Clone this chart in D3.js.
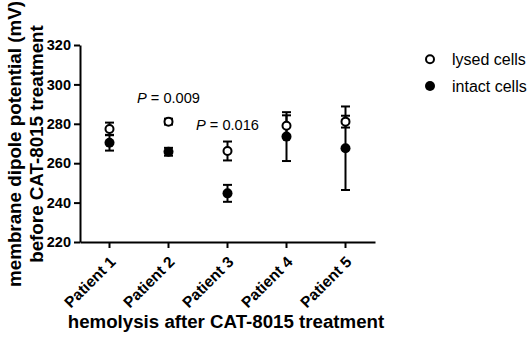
<!DOCTYPE html>
<html>
<head>
<meta charset="utf-8">
<script src="https://cdn.jsdelivr.net/npm/d3@7"></script>
<style>
  body { margin: 0; background: #fff; }
  svg { font-family: "Liberation Sans", Arial, sans-serif; }
  .axis path, .axis line { stroke: #000; stroke-width: 2; }
</style>
</head>
<body>
<svg width="529" height="338"></svg>
<script>
var patients = ["Patient 1", "Patient 2", "Patient 3", "Patient 4", "Patient 5"];
var lysedMean = [277.4, 281.1, 266.2, 279.0, 281.1];
var lysedErr = [3.2, 1.5, 4.8, 5.3, 3.0];
var intactMean = [270.4, 265.8, 244.7, 273.5, 267.6];
var intactErr = [4.0, 2.0, 4.3, 12.4, 21.2];
var yTicks = [220, 240, 260, 280, 300, 320];
var pNotes = [
  { patient: "Patient 2", text: "0.009", value: 290.5 },
  { patient: "Patient 3", text: "0.016", value: 276.8 }
];
var legendItems = ["lysed cells", "intact cells"];

var svg = d3.select("svg");

var x = d3.scaleBand().domain(patients).range([80, 375]);
var y = d3.scaleLinear().domain([220, 320]).range([242, 45]);

function cx(p) { return x(p) + x.bandwidth() / 2; }

// axes
svg.append("g").attr("class", "axis")
  .attr("transform", "translate(80,0)")
  .call(d3.axisLeft(y).tickValues(yTicks).tickSize(6).tickSizeOuter(0).tickPadding(3))
  .call(function (g) {
    g.selectAll("text").attr("font-size", 14.5).attr("font-weight", "bold")
      .attr("fill", "#000").attr("font-family", "Liberation Sans, Arial, sans-serif");
  });

svg.append("g").attr("class", "axis")
  .attr("transform", "translate(0,242)")
  .call(d3.axisBottom(x).tickSize(6).tickSizeOuter(0))
  .call(function (g) {
    g.selectAll("text")
      .attr("font-size", 15.5).attr("font-weight", "bold").attr("fill", "#000")
      .attr("font-family", "Liberation Sans, Arial, sans-serif")
      .attr("text-anchor", "end")
      .attr("dy", null).attr("y", null)
      .attr("transform", "translate(7,21) rotate(-45)");
  });

// series
var series = [
  { name: "lysed", mean: lysedMean, err: lysedErr, fill: "#fff" },
  { name: "intact", mean: intactMean, err: intactErr, fill: "#000" }
];

series.forEach(function (s) {
  var rows = patients.map(function (p, i) {
    return { p: p, m: s.mean[i], e: s.err[i] };
  });
  var g = svg.append("g");
  g.selectAll("line.bar").data(rows).enter().append("line")
    .attr("x1", function (d) { return cx(d.p); })
    .attr("x2", function (d) { return cx(d.p); })
    .attr("y1", function (d) { return y(d.m - d.e); })
    .attr("y2", function (d) { return y(d.m + d.e); })
    .attr("stroke", "#000").attr("stroke-width", 2);
  [-1, 1].forEach(function (sgn) {
    g.selectAll("line.cap" + sgn).data(rows).enter().append("line")
      .attr("x1", function (d) { return cx(d.p) - 4.5; })
      .attr("x2", function (d) { return cx(d.p) + 4.5; })
      .attr("y1", function (d) { return y(d.m + sgn * d.e); })
      .attr("y2", function (d) { return y(d.m + sgn * d.e); })
      .attr("stroke", "#000").attr("stroke-width", 2);
  });
});

series.forEach(function (s) {
  svg.append("g").selectAll("circle").data(s.mean).enter().append("circle")
    .attr("cx", function (d, i) { return cx(patients[i]); })
    .attr("cy", function (d) { return y(d); })
    .attr("r", s.name === "lysed" ? 4 : 5)
    .attr("fill", s.fill).attr("stroke", "#000").attr("stroke-width", s.name === "lysed" ? 2 : 0);
});

// p-values
pNotes.forEach(function (n) {
  var t = svg.append("text")
    .attr("x", cx(n.patient)).attr("y", y(n.value))
    .attr("text-anchor", "middle").attr("font-size", 14.6).attr("fill", "#000");
  t.append("tspan").attr("font-style", "italic").text("P");
  t.append("tspan").text(" = " + n.text);
});

// legend
legendItems.forEach(function (name, i) {
  var ly = 59.3 + i * 26.7;
  svg.append("circle").attr("cx", 430).attr("cy", ly)
    .attr("r", i === 0 ? 4 : 5)
    .attr("fill", i === 0 ? "#fff" : "#000")
    .attr("stroke", "#000").attr("stroke-width", i === 0 ? 2 : 0);
  svg.append("text").attr("x", 452).attr("y", ly + 6)
    .attr("font-size", 16).attr("fill", "#000").text(name);
});

// axis titles
svg.append("text")
  .attr("transform", "translate(21,144) rotate(-90)")
  .attr("text-anchor", "middle").attr("font-size", 18.8).attr("font-weight", "bold")
  .text("membrane dipole potential (mV)");
svg.append("text")
  .attr("transform", "translate(43,144) rotate(-90)")
  .attr("text-anchor", "middle").attr("font-size", 18.8).attr("font-weight", "bold")
  .text("before CAT-8015 treatment");

svg.append("text")
  .attr("x", 226).attr("y", 328)
  .attr("text-anchor", "middle").attr("font-size", 18.7).attr("font-weight", "bold")
  .text("hemolysis after CAT-8015 treatment");
</script>
</body>
</html>
